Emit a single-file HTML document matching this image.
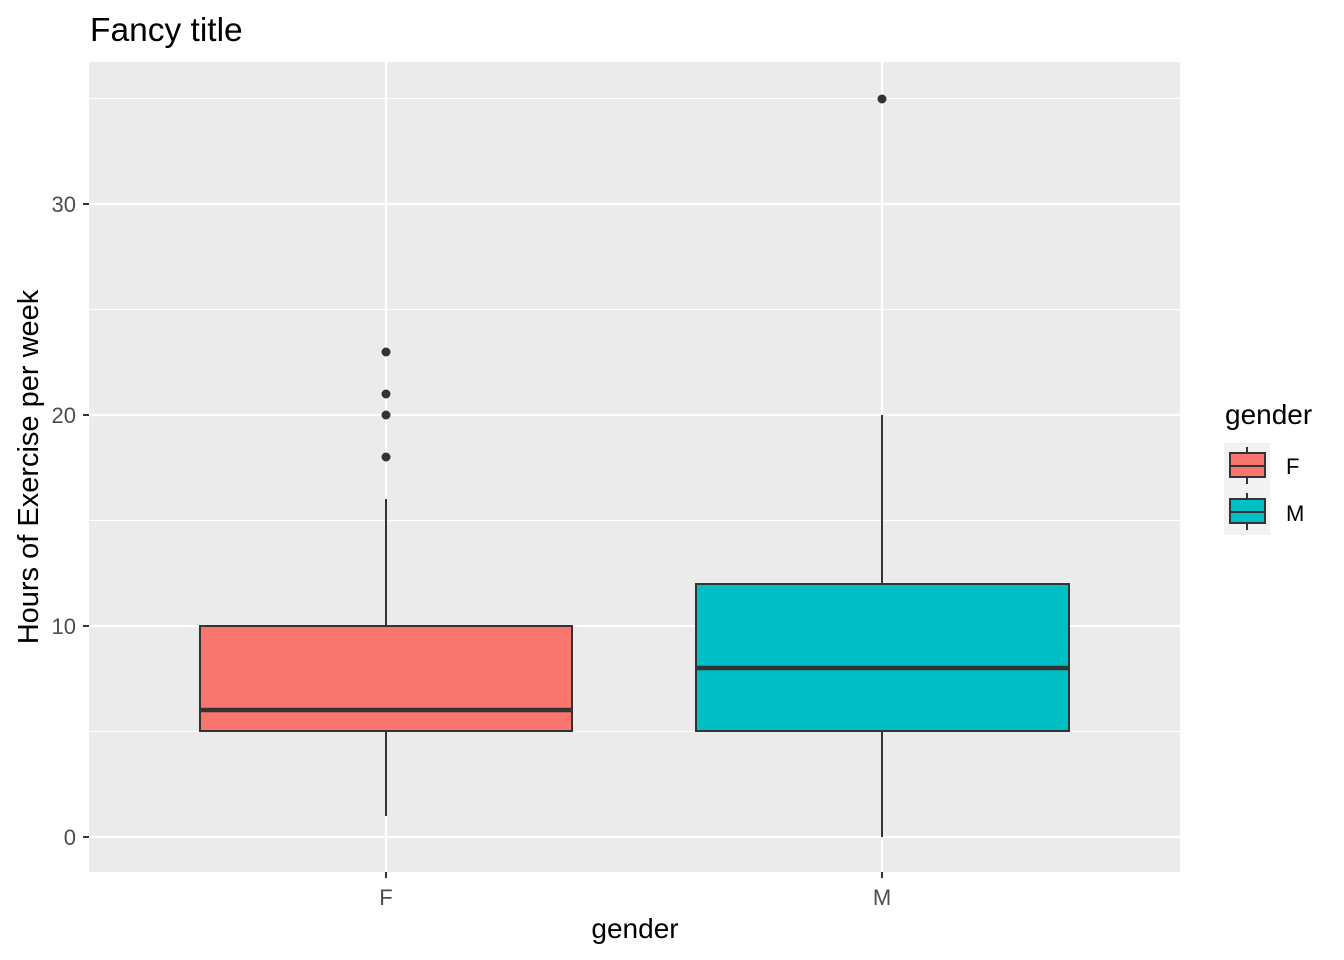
<!DOCTYPE html>
<html><head><style>body{margin:0;background:#fff}svg{display:block}</style></head><body>
<svg width="1344" height="960" viewBox="0 0 1344 960" xmlns="http://www.w3.org/2000/svg" font-family="Liberation Sans, Arial, sans-serif">
<rect width="1344" height="960" fill="#fff"/>
<text x="90" y="41" font-size="33.5" fill="#000">Fancy title</text>
<rect x="89" y="62" width="1091" height="810" fill="#ebebeb"/>
<g stroke="#fff" stroke-width="1.1">
<line x1="89" x2="1180" y1="731.5" y2="731.5"/><line x1="89" x2="1180" y1="520.5" y2="520.5"/>
<line x1="89" x2="1180" y1="309.5" y2="309.5"/><line x1="89" x2="1180" y1="98.5" y2="98.5"/>
</g>
<g stroke="#fff" stroke-width="2.2">
<line x1="89" x2="1180" y1="837" y2="837"/><line x1="89" x2="1180" y1="626" y2="626"/>
<line x1="89" x2="1180" y1="415" y2="415"/><line x1="89" x2="1180" y1="204" y2="204"/>
<line x1="386" x2="386" y1="62" y2="872"/><line x1="882" x2="882" y1="62" y2="872"/>
</g>
<g stroke="#333" stroke-width="2">
<line x1="386" x2="386" y1="816" y2="731"/><line x1="386" x2="386" y1="626" y2="499"/>
<rect x="200" y="626" width="372" height="105" fill="#f8766d"/>
<line x1="200" x2="572" y1="710" y2="710" stroke-width="4.5"/>
<line x1="882" x2="882" y1="837" y2="731"/><line x1="882" x2="882" y1="584" y2="415"/>
<rect x="696" y="584" width="373" height="147" fill="#00bfc4"/>
<line x1="696" x2="1069" y1="668" y2="668" stroke-width="4.5"/>
</g>
<g fill="#333">
<circle cx="386" cy="457" r="4.5"/><circle cx="386" cy="415" r="4.5"/><circle cx="386" cy="394" r="4.5"/><circle cx="386" cy="352" r="4.5"/>
<circle cx="882" cy="99" r="4.5"/>
</g>
<g stroke="#333" stroke-width="2">
<line x1="83" x2="89" y1="837" y2="837"/><line x1="83" x2="89" y1="626" y2="626"/>
<line x1="83" x2="89" y1="415" y2="415"/><line x1="83" x2="89" y1="204" y2="204"/>
<line x1="386" x2="386" y1="872" y2="878"/><line x1="882" x2="882" y1="872" y2="878"/>
</g>
<g font-size="22" fill="#4d4d4d" text-anchor="end">
<text x="76" y="845">0</text><text x="76" y="634">10</text><text x="76" y="423">20</text><text x="76" y="212">30</text>
</g>
<g font-size="22" fill="#4d4d4d" text-anchor="middle">
<text x="386" y="905">F</text><text x="882" y="905">M</text>
</g>
<text x="635" y="938" font-size="28" text-anchor="middle" fill="#000">gender</text>
<text transform="translate(38,467) rotate(-90)" font-size="29" text-anchor="middle" fill="#000">Hours of Exercise per week</text>
<text x="1225" y="424" font-size="28" fill="#000">gender</text>
<rect x="1224" y="443" width="46" height="92" fill="#f2f2f2"/>
<g stroke="#333" stroke-width="2">
<line x1="1247" x2="1247" y1="447" y2="484"/>
<rect x="1230" y="453" width="35" height="24" fill="#f8766d"/>
<line x1="1230" x2="1265" y1="466" y2="466"/>
<line x1="1247" x2="1247" y1="493" y2="530"/>
<rect x="1230" y="499" width="35" height="24" fill="#00bfc4"/>
<line x1="1230" x2="1265" y1="512" y2="512"/>
</g>
<g font-size="22" fill="#000">
<text x="1286" y="474">F</text><text x="1286" y="521">M</text>
</g>
</svg>
</body></html>
